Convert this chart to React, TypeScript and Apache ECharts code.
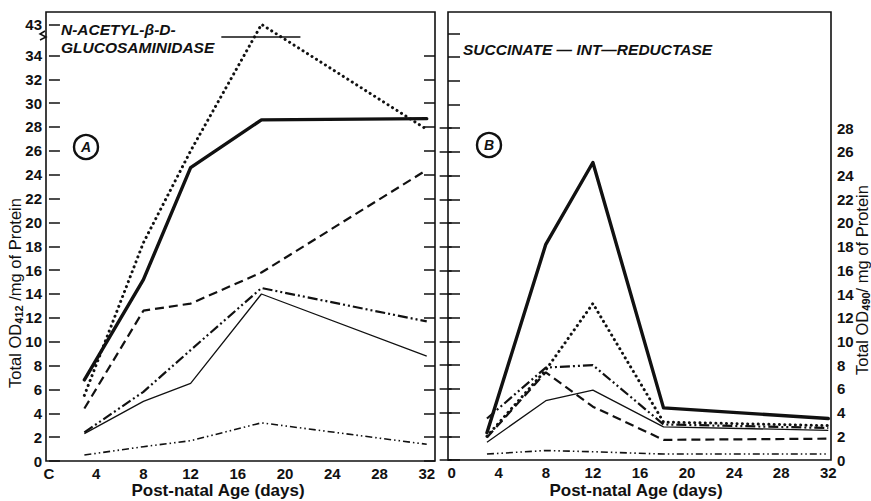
import React, { useEffect, useRef } from "react";
import * as echarts from "echarts";

// ---- data ----
const days = [3, 8, 12, 18, 32];
const xTickValues = [0, 4, 8, 12, 16, 20, 24, 28, 32];
const xTickLabelsA = ["C", "4", "8", "12", "16", "20", "24", "28", "32"];
const xTickLabelsB = ["0", "4", "8", "12", "16", "20", "24", "28", "32"];
const yTicksA = [0, 2, 4, 6, 8, 10, 12, 14, 16, 18, 20, 22, 24, 26, 28, 30, 32, 34];
const yBreakTickA = 43;
const yTicksB = [0, 2, 4, 6, 8, 10, 12, 14, 16, 18, 20, 22, 24, 26, 28];
const yTicksBLeft = [0, 2, 4, 6, 8, 10, 12, 14, 16, 18, 20, 22, 24, 26, 28, 30, 32, 34, 36];

// Panel A: N-acetyl-beta-D-glucosaminidase (Total OD412 / mg protein)
const aThick = [6.8, 15.2, 24.6, 28.6, 28.7];
const aDotted = [5.5, 18.3, 26.0, 43, 27.8];
const aDashed = [4.4, 12.6, 13.2, 15.8, 24.4];
const aDashDot = [2.4, 5.8, 9.3, 14.5, 11.7];
const aThin = [2.3, 5.0, 6.5, 14.0, 8.8];
const aLow = [0.5, 1.2, 1.7, 3.2, 1.4];

// Panel B: succinate-INT-reductase (Total OD490 / mg protein)
const bThick = [2.3, 18.2, 25.1, 4.4, 3.5];
const bDotted = [2.0, 7.6, 13.2, 3.2, 2.9];
const bDashed = [1.9, 7.4, 4.5, 1.7, 1.8];
const bDashDot = [3.5, 7.8, 8.0, 3.0, 2.7];
const bThin = [1.5, 5.0, 5.9, 2.8, 2.5];
const bLow = [0.5, 0.8, 0.7, 0.5, 0.5];

// broken y axis of panel A: values above BREAK are compressed
const BREAK = 35;
const BREAK_FACTOR = 0.2;
const toAxisA = (v: number) => (v <= BREAK ? v : BREAK + (v - BREAK) * BREAK_FACTOR);
const fromAxisA = (v: number) => (v <= BREAK ? v : BREAK + (v - BREAK) / BREAK_FACTOR);

const INK = "#111";
const FONT = "Liberation Sans";

const styles: Record<string, any> = {
  thick: { width: 3.4, type: "solid", cap: "round", join: "round" },
  dotted: { width: 3, type: [0.1, 5.2], cap: "round", join: "round" },
  dashed: { width: 2.2, type: [9, 5] },
  dashDot: { width: 2.2, type: [10, 3, 2, 3, 2, 3] },
  thin: { width: 1.3, type: "solid" },
  low: { width: 1.6, type: [7, 3, 1.5, 3, 1.5, 3] },
};

function mk(name: string, vals: number[], xi: number, yi: number, style: string, map?: (v: number) => number, extra?: any) {
  return {
    type: "line",
    name,
    xAxisIndex: xi,
    yAxisIndex: yi,
    data: days.map((d, i) => [d, map ? map(vals[i]) : vals[i]]),
    symbol: "none",
    showSymbol: false,
    silent: true,
    lineStyle: { color: INK, ...styles[style] },
    ...(extra || {}),
  };
}

const labelStyle = { color: INK, fontFamily: FONT, fontSize: 15, fontWeight: "bold" };

export default function App() {
  const ref = useRef<HTMLDivElement>(null);
  useEffect(() => {
    if (!ref.current) return;
    const chart = echarts.init(ref.current, undefined, { renderer: "svg" });
    const gridA = { left: 46, top: 12, width: 389, height: 449 };
    const gridB = { left: 448, top: 12, width: 383, height: 448 };
    const nameRich = {
      a: { fontFamily: FONT, fontSize: 16.5, fill: INK, fontWeight: "normal" },
      s: { fontFamily: FONT, fontSize: 11, fill: INK, fontWeight: "bold", padding: [8, 0, 0, 0] },
    };
    const option: any = {
      animation: false,
      backgroundColor: "#fff",
      grid: [
        { ...gridA, show: true, borderColor: INK, borderWidth: 1.6, backgroundColor: "transparent" },
        { ...gridB, show: true, borderColor: INK, borderWidth: 1.6, backgroundColor: "transparent" },
      ],
      xAxis: [
        {
          type: "value", gridIndex: 0, min: -0.25, max: 32.7,
          axisLine: { show: false }, axisTick: { show: false }, splitLine: { show: false },
          axisLabel: {
            ...labelStyle, margin: 5, customValues: xTickValues,
            formatter: (v: number) => xTickLabelsA[xTickValues.indexOf(v)] ?? "",
          },
        },
        {
          type: "value", gridIndex: 1, min: -0.31, max: 32.23,
          axisLine: { show: false }, axisTick: { show: false }, splitLine: { show: false },
          axisLabel: {
            ...labelStyle, margin: 5, customValues: xTickValues,
            formatter: (v: number) => xTickLabelsB[xTickValues.indexOf(v)] ?? "",
          },
        },
      ],
      yAxis: [
        {
          type: "value", gridIndex: 0, position: "left", min: 0, max: 37.64,
          axisLine: { show: false }, splitLine: { show: false },
          axisTick: { show: true, inside: true, length: 11, lineStyle: { color: INK, width: 1.5 }, customValues: [...yTicksA, toAxisA(yBreakTickA)] },
          axisLabel: {
            ...labelStyle, margin: 4, customValues: [...yTicksA, toAxisA(yBreakTickA)],
            formatter: (v: number) => String(Math.round(fromAxisA(v))),
          },
        },
        {
          type: "value", gridIndex: 0, position: "right", min: 0, max: 37.64,
          axisLine: { show: false }, splitLine: { show: false },
          axisTick: { show: true, inside: true, length: 11, lineStyle: { color: INK, width: 1.5 }, customValues: yTicksA },
          axisLabel: { show: false },
        },
        {
          type: "value", gridIndex: 1, position: "right", min: 0, max: 37.8,
          axisLine: { show: false }, splitLine: { show: false },
          axisTick: { show: true, inside: true, length: 12, lineStyle: { color: INK, width: 1.5 }, customValues: yTicksB },
          axisLabel: { ...labelStyle, margin: 6, customValues: yTicksB, formatter: (v: number) => String(v) },
        },
        {
          type: "value", gridIndex: 1, position: "left", min: 0, max: 37.8,
          axisLine: { show: false }, splitLine: { show: false },
          axisTick: { show: true, inside: true, length: 12, lineStyle: { color: INK, width: 1.5 }, customValues: yTicksBLeft },
          axisLabel: { show: false },
        },
      ],
      series: [
        mk("A thick", aThick, 0, 0, "thick"),
        mk("A dotted", aDotted, 0, 0, "dotted", toAxisA, {
          markLine: {
            silent: true, symbol: "none", label: { show: false },
            lineStyle: { color: INK, width: 1.6, type: "solid" },
            data: [[{ coord: [14.6, 35.6] }, { coord: [21.3, 35.6] }]],
          },
        }),
        mk("A dashed", aDashed, 0, 0, "dashed"),
        mk("A dashdot", aDashDot, 0, 0, "dashDot"),
        mk("A thin", aThin, 0, 0, "thin"),
        mk("A low", aLow, 0, 0, "low"),
        mk("B thick", bThick, 1, 2, "thick"),
        mk("B dotted", bDotted, 1, 2, "dotted"),
        mk("B dashed", bDashed, 1, 2, "dashed"),
        mk("B dashdot", bDashDot, 1, 2, "dashDot"),
        mk("B thin", bThin, 1, 2, "thin"),
        mk("B low", bLow, 1, 2, "low"),
      ],
      graphic: [
        {
          type: "text", x: 61, y: 20,
          style: {
            text: "N-ACETYL-β-D-\nGLUCOSAMINIDASE", fill: INK, fontFamily: FONT, fontSize: 15.5,
            fontWeight: "bold", fontStyle: "italic", lineHeight: 18.5, align: "left", verticalAlign: "top",
          },
        },
        {
          type: "text", x: 463, y: 49,
          style: {
            text: "SUCCINATE — INT—REDUCTASE", fill: INK, fontFamily: FONT, fontSize: 15.5,
            fontWeight: "bold", fontStyle: "italic", align: "left", verticalAlign: "middle",
          },
        },
        { type: "circle", shape: { cx: 86, cy: 147, r: 12 }, style: { fill: "none", stroke: INK, lineWidth: 2.4 } },
        {
          type: "text", x: 86, y: 147,
          style: { text: "A", fill: INK, fontFamily: FONT, fontSize: 14, fontWeight: "bold", fontStyle: "italic", align: "center", verticalAlign: "middle" },
        },
        { type: "circle", shape: { cx: 489, cy: 145, r: 12 }, style: { fill: "none", stroke: INK, lineWidth: 2.4 } },
        {
          type: "text", x: 489, y: 145,
          style: { text: "B", fill: INK, fontFamily: FONT, fontSize: 14, fontWeight: "bold", fontStyle: "italic", align: "center", verticalAlign: "middle" },
        },
        {
          type: "text", x: 218, y: 490,
          style: { text: "Post-natal Age (days)", fill: INK, fontFamily: FONT, fontSize: 17, fontWeight: "bold", align: "center", verticalAlign: "middle" },
        },
        {
          type: "text", x: 636, y: 490,
          style: { text: "Post-natal Age (days)", fill: INK, fontFamily: FONT, fontSize: 17, fontWeight: "bold", align: "center", verticalAlign: "middle" },
        },
        {
          type: "text", x: 15, y: 293, rotation: Math.PI / 2,
          style: {
            text: "{a|Total OD}{s|412}{a| /mg of Protein}", fill: INK, align: "center", verticalAlign: "middle",
            rich: nameRich,
          },
        },
        {
          type: "text", x: 862, y: 280, rotation: Math.PI / 2,
          style: {
            text: "{a|Total OD}{s|490}{a|/ mg of Protein}", fill: INK, align: "center", verticalAlign: "middle",
            rich: nameRich,
          },
        },
        {
          type: "polyline",
          shape: { points: [[45, 31], [40, 34], [46, 37], [40, 40]] },
          style: { fill: "none", stroke: INK, lineWidth: 1.5 },
        },
      ],
    };
    chart.setOption(option);
    return () => chart.dispose();
  }, []);
  return <div ref={ref} style={{ position: "fixed", left: 0, top: 0, width: 871, height: 501, background: "#fff" }} />;
}
